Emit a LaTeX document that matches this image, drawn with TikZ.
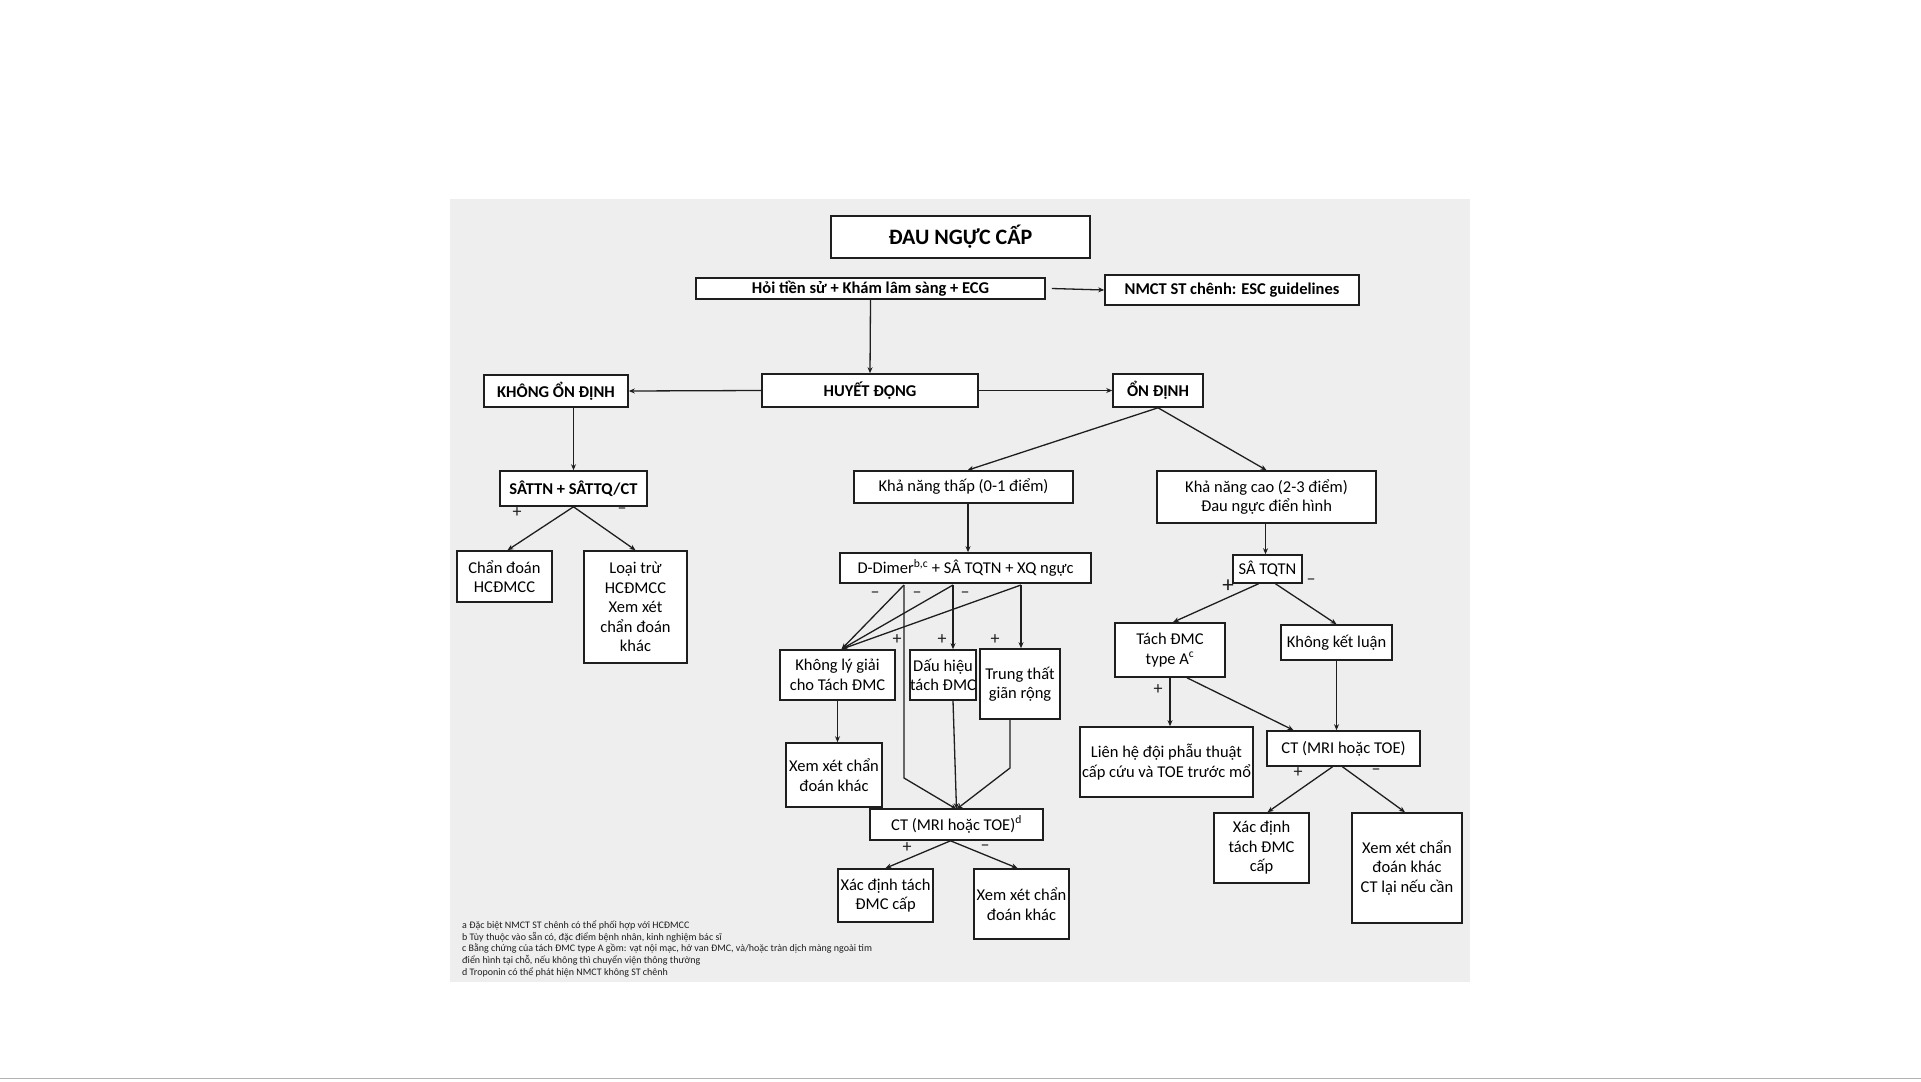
\documentclass[tikz,border=0pt]{standalone}
\usepackage{fontspec}
\setmainfont{Carlito}
\usetikzlibrary{arrows.meta}
\definecolor{panel}{HTML}{EEEEEE}
\definecolor{ink}{HTML}{1E1E1E}
\begin{document}
\begin{tikzpicture}[x=1pt,y=-1pt,
  box/.style={draw=ink, line width=1.6pt, fill=white, inner sep=0pt, align=center, font=\fontsize{16.5}{19.5}\selectfont},
  bbox/.style={box, font=\bfseries\fontsize{16.5}{19}\selectfont},
  conn/.style={line width=1.3pt, draw=ink},
  arr/.style={conn, -{Stealth[length=6pt,width=5pt]}},
  sgn/.style={font=\fontsize{18}{18}\selectfont, inner sep=0pt, text=ink},
  note/.style={font=\fontsize{10}{11}\selectfont, inner sep=0pt, anchor=west, text=ink}
]
\useasboundingbox (0,0) rectangle (1921,1081);
\fill[white] (0,0) rectangle (1921,1081);
\fill[panel] (450,199) rectangle (1470,982);
\draw[gray!60, line width=1pt] (0,1078) -- (1921,1078);

% top
\node[box, font=\bfseries\fontsize{22}{26}\selectfont, minimum width=259pt, minimum height=42pt] (title) at (960.5,237) {ĐAU NGỰC CẤP};
\node[bbox, minimum width=349pt, minimum height=21pt] (hoi) at (870.5,288.5) {Hỏi tiền sử + Khám lâm sàng + ECG};
\node[bbox, minimum width=254pt, minimum height=30pt] (nmct) at (1232,290) {NMCT ST chênh: ESC guidelines};
\node[bbox, minimum width=216pt, minimum height=33pt] (huyet) at (870,390.5) {HUYẾT ĐỘNG};
\node[bbox, minimum width=144pt, minimum height=32pt] (khong) at (556,391) {KHÔNG ỔN ĐỊNH};
\node[bbox, minimum width=90pt, minimum height=33pt] (ondinh) at (1158,390.5) {ỔN ĐỊNH};

% left branch
\node[bbox, minimum width=147pt, minimum height=35pt] (sattn) at (573.5,488.5) {SÂTTN + SÂTTQ/CT};
\node[box, minimum width=95pt, minimum height=51pt] (chandoan) at (504.5,576.5) {Chẩn đoán\\HCĐMCC};
\node[box, minimum width=103pt, minimum height=112pt] (loaitru) at (635.5,607) {Loại trừ\\HCĐMCC\\Xem xét\\chẩn đoán\\khác};

% middle branch
\node[box, minimum width=219pt, minimum height=32pt] (kntap) at (963.5,487) {Khả năng thấp (0-1 điểm)};
\node[box, minimum width=251pt, minimum height=30pt] (ddimer) at (965.5,568) {D-Dimer\textsuperscript{b,c} + SÂ TQTN + XQ ngực};
\node[box, minimum width=115pt, minimum height=50pt] (klg) at (837.5,675) {Không lý giải\\cho Tách ĐMC};
\node[box, minimum width=62pt, minimum height=50pt] (dauhieu) at (943,675) {Dấu hiệu\\tách ĐMC};
\node[box, minimum width=80pt, minimum height=70pt] (trungthat) at (1020,684) {Trung thất\\giãn rộng};
\node[box, minimum width=96pt, minimum height=64pt] (xxma) at (834,775) {Xem xét chẩn\\đoán khác};
\node[box, minimum width=173pt, minimum height=31pt] (ctm) at (956.5,824.5) {CT (MRI hoặc TOE)\textsuperscript{d}};
\node[box, minimum width=95pt, minimum height=53pt] (xdm) at (885.5,895.5) {Xác định tách\\ĐMC cấp};
\node[box, minimum width=95pt, minimum height=70pt] (xxmb) at (1021.5,904) {Xem xét chẩn\\đoán khác};

% right branch
\node[box, minimum width=219pt, minimum height=52pt] (kncao) at (1266.5,497) {Khả năng cao (2-3 điểm)\\Đau ngực điển hình};
\node[box, minimum width=69pt, minimum height=28pt] (satqtn) at (1267.5,569) {SÂ TQTN};
\node[box, minimum width=110pt, minimum height=54pt] (tach) at (1170,650) {Tách ĐMC\\type A\textsuperscript{c}};
\node[box, minimum width=111pt, minimum height=35pt] (kkl) at (1336.5,642.5) {Không kết luận};
\node[box, minimum width=173pt, minimum height=70pt] (lienhe) at (1166.5,762) {Liên hệ đội phẫu thuật\\cấp cứu và TOE trước mổ};
\node[box, minimum width=153pt, minimum height=35pt] (ctr) at (1343.5,748.5) {CT (MRI hoặc TOE)};
\node[box, minimum width=95pt, minimum height=70pt] (xdr) at (1261.5,848) {Xác định\\tách ĐMC\\cấp};
\node[box, minimum width=110pt, minimum height=110pt] (xxr) at (1407,868) {Xem xét chẩn\\đoán khác\\CT lại nếu cần};

% connectors top
\draw[arr] (hoi.south) -- (huyet.north);
\draw[arr] ([xshift=6pt]hoi.east) -- (nmct.west);
\draw[arr] (huyet.west) -- (khong.east);
\draw[arr] (huyet.east) -- (ondinh.west);
\draw[arr] (khong.south -| sattn.north) -- (sattn.north);
\draw[arr] (sattn.south) -- ([xshift=3pt]chandoan.north);
\draw[arr] (sattn.south) -- (loaitru.north);
\draw[arr] (ondinh.south) -- ([xshift=4pt]kntap.north);
\draw[arr] (ondinh.south) -- (kncao.north);

% middle connectors
\coordinate (kb) at (968,503);
\draw[arr] (kb) -- (kb |- ddimer.north);
\coordinate (d1) at (904,585);
\coordinate (d2) at (953,585);
\coordinate (d3) at (1021,585);
\coordinate (kt) at ([xshift=4pt]klg.north);
\draw[arr] (d1) -- (kt);
\draw[arr] (d2) -- (kt);
\draw[arr] (d3) -- (kt);
\draw[arr] (d2) -- (d2 |- dauhieu.north);
\draw[arr] (d3) -- (d3 |- trungthat.north);
\coordinate (ctt) at ([yshift=-1pt]ctm.north);
\coordinate (l1) at (904,778);
\coordinate (tb) at (1010,719);
\coordinate (l3) at (1010,768);
\draw[arr] (d1) -- (l1) -- (ctt);
\draw[arr] (d2 |- dauhieu.south) -- (ctt);
\draw[arr] (tb) -- (l3) -- (ctt);
\draw[arr] (klg.south) -- (klg.south |- xxma.north);
\draw[arr] ([xshift=-6pt]ctm.south) -- (xdm.north);
\draw[arr] ([xshift=-6pt]ctm.south) -- ([xshift=-4pt]xxmb.north);

% right connectors
\draw[arr] ([xshift=-1pt]kncao.south) -- ([xshift=-1pt]kncao.south |- satqtn.north);
\draw[arr] ([xshift=-9pt]satqtn.south) -- ([xshift=3pt]tach.north);
\draw[arr] ([xshift=8pt]satqtn.south) -- (kkl.north);
\draw[arr] (tach.south) -- (tach.south |- lienhe.north);
\draw[arr] ([xshift=17pt]tach.south) -- ([xshift=-50pt]ctr.north);
\draw[arr] (kkl.south) -- (kkl.south |- ctr.north);
\draw[arr] ([xshift=-11pt]ctr.south) -- ([xshift=6pt]xdr.north);
\draw[arr] ([xshift=-1pt]ctr.south) -- ([xshift=-2pt]xxr.north);

% signs
\node[sgn] (s1) at (517,513) {+};
\node[sgn] (s2) at (622,511) {–};
\node[sgn] (s3) at (875,595) {–};
\node[sgn] (s4) at (917,595) {–};
\node[sgn] (s5) at (965,595) {–};
\node[sgn] (s6) at (897,640) {+};
\node[sgn] (s7) at (942,640) {+};
\node[sgn] (s8) at (995,640) {+};
\node[sgn, font=\fontsize{23}{23}\selectfont] (s9) at (1228,586) {+};
\node[sgn] (s10) at (1311,582) {–};
\node[sgn] (s11) at (1158,690) {+};
\node[sgn] (s12) at (1298,773) {+};
\node[sgn] (s13) at (1376,772) {–};
\node[sgn] (s14) at (907,848) {+};
\node[sgn] (s15) at (985,848) {–};

% footnotes
\node[note] (n1) at (462,925) {a Đặc biệt NMCT ST chênh có thể phối hợp với HCĐMCC};
\node[note] (n2) at (462,937) {b Tùy thuộc vào sẵn có, đặc điểm bệnh nhân, kinh nghiệm bác sĩ};
\node[note] (n3) at (462,948) {c Bằng chứng của tách ĐMC type A gồm: vạt nội mạc, hở van ĐMC, và/hoặc tràn dịch màng ngoài tim};
\node[note] (n4) at (462,960) {điển hình tại chỗ, nếu không thì chuyển viện thông thường};
\node[note] (n5) at (462,972) {d Troponin có thể phát hiện NMCT không ST chênh};
\end{tikzpicture}
\end{document}
